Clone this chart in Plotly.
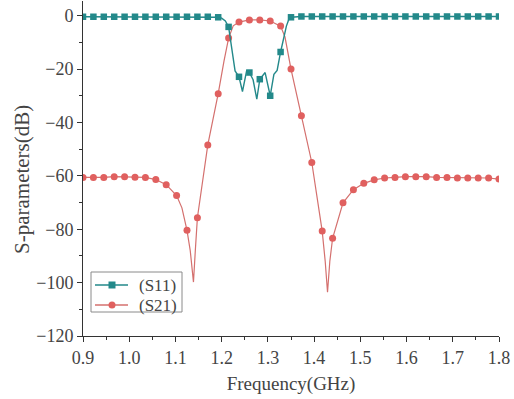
import plotly.graph_objects as go

# ---------------- data ----------------
# marker (sampled) points
freq_markers = [0.9, 0.9225, 0.945, 0.9675, 0.99, 1.0125, 1.035, 1.0575, 1.08, 1.1025,
                1.125, 1.1475, 1.17, 1.1925, 1.215, 1.2375, 1.26, 1.2825, 1.305, 1.3275,
                1.35, 1.3725, 1.395, 1.4175, 1.44, 1.4625, 1.485, 1.5075, 1.53, 1.5525,
                1.575, 1.5975, 1.62, 1.6425, 1.665, 1.6875, 1.71, 1.7325, 1.755, 1.7775, 1.8]

s11_markers = [-0.4, -0.4, -0.4, -0.4, -0.4, -0.4, -0.4, -0.4, -0.4, -0.4,
               -0.4, -0.4, -0.4, -0.6, -4.2, -22.9, -21.3, -23.8, -30.0, -13.6,
               -0.6, -0.3, -0.3, -0.3, -0.3, -0.3, -0.3, -0.3, -0.3, -0.3,
               -0.3, -0.3, -0.3, -0.3, -0.3, -0.3, -0.3, -0.3, -0.3, -0.3, -0.3]

s21_markers = [-60.6, -60.6, -60.6, -60.3, -60.3, -60.5, -60.6, -61.4, -63.3, -67.4,
               -80.4, -75.7, -48.4, -29.2, -8.4, -2.4, -1.6, -1.6, -2.0, -3.9,
               -20.0, -37.5, -55.0, -80.7, -83.4, -70.1, -65.2, -62.8, -61.5, -60.8,
               -60.6, -60.3, -60.3, -60.3, -60.6, -60.6, -60.8, -60.8, -60.8, -60.8, -61.2]

# extra points shaping the continuous curves between markers
s11_extra_freq = [1.200, 1.208, 1.222, 1.229, 1.245, 1.254, 1.268, 1.276, 1.294, 1.313, 1.320, 1.340, 1.345]
s11_extra_db = [-0.9, -2.0, -12.0, -20.7, -28.4, -20.7, -24.0, -31.3, -21.3, -22.0, -20.5, -3.9, -1.5]

s21_extra_freq = [1.114, 1.132, 1.139, 1.143, 1.205, 1.225, 1.337, 1.424, 1.429, 1.434]
s21_extra_db = [-72.0, -88.0, -99.8, -88.0, -17.0, -3.8, -8.0, -92.0, -103.6, -92.0]

series_names = ["(S11)", "(S21)"]

x_ticks = [0.9, 1.0, 1.1, 1.2, 1.3, 1.4, 1.5, 1.6, 1.7, 1.8]
x_tick_text = ["0.9", "1.0", "1.1", "1.2", "1.3", "1.4", "1.5", "1.6", "1.7", "1.8"]
y_ticks = [0, -20, -40, -60, -80, -100, -120]
y_tick_text = ["0", "\u221220", "\u221240", "\u221260", "\u221280", "\u2212100", "\u2212120"]

# ---------------- helpers ----------------
def merged(fm, vm, fe, ve):
    pts = sorted(list(zip(fm, vm)) + list(zip(fe, ve)))
    return [p[0] for p in pts], [p[1] for p in pts]

s11_x, s11_y = merged(freq_markers, s11_markers, s11_extra_freq, s11_extra_db)
s21_x, s21_y = merged(freq_markers, s21_markers, s21_extra_freq, s21_extra_db)

TEAL = "#23898a"
RED_M = "#e0605f"
RED_L = "#d4706e"
FONT = "Liberation Serif"
TXT = "#444444"

W, H = 514, 399
ML, MR, MT, MB = 83, 15, 1, 63
PW, PH = W - ML - MR, H - MT - MB


def px(xp):
    return (xp - ML) / PW


def py(yp):
    return (H - MB - yp) / PH


fig = go.Figure()

fig.add_trace(go.Scatter(x=s21_x, y=s21_y, mode="lines", name=series_names[1],
                         line=dict(color=RED_L, width=1.2), showlegend=False, hoverinfo="skip"))
fig.add_trace(go.Scatter(x=freq_markers, y=s21_markers, mode="markers", name=series_names[1],
                         marker=dict(color=RED_M, size=7, symbol="circle"), showlegend=False))
fig.add_trace(go.Scatter(x=s11_x, y=s11_y, mode="lines", name=series_names[0],
                         line=dict(color=TEAL, width=1.4), showlegend=False, hoverinfo="skip"))
fig.add_trace(go.Scatter(x=freq_markers, y=s11_markers, mode="markers", name=series_names[0],
                         marker=dict(color=TEAL, size=6.5, symbol="square"), showlegend=False))

# ---------------- legend (drawn as shapes + text) ----------------
shapes = [dict(type="rect", xref="paper", yref="paper",
               x0=px(91), x1=px(182), y0=py(312), y1=py(272),
               line=dict(color="#8a8a8a", width=1), fillcolor="white", layer="above")]
annotations = []
leg_items = [(series_names[0], TEAL, TEAL, 285, "rect"),
             (series_names[1], RED_L, RED_M, 305, "circle")]
for name, lc, mc, yc, sym in leg_items:
    shapes.append(dict(type="line", xref="paper", yref="paper",
                       x0=px(95), x1=px(128), y0=py(yc), y1=py(yc),
                       line=dict(color=lc, width=1.4), layer="above"))
    shapes.append(dict(type=sym, xref="paper", yref="paper",
                       x0=px(108.5), x1=px(115.5), y0=py(yc + 3.5), y1=py(yc - 3.5),
                       line=dict(color=mc, width=0), fillcolor=mc, layer="above"))
    annotations.append(dict(text=name, showarrow=False, xref="paper", yref="paper",
                            x=px(137), y=py(yc), xanchor="left", yanchor="middle",
                            font=dict(family=FONT, size=17, color=TXT)))

annotations.append(dict(text="S-parameters(dB)", textangle=-90, showarrow=False,
                        xref="paper", yref="paper", x=px(22), y=py(180),
                        xanchor="center", yanchor="middle",
                        font=dict(family=FONT, size=21, color=TXT)))

fig.update_layout(
    width=W, height=H,
    margin=dict(l=ML, r=MR, t=MT, b=MB, autoexpand=False),
    paper_bgcolor="white", plot_bgcolor="white",
    font=dict(family=FONT, color=TXT, size=17),
    showlegend=False,
    shapes=shapes,
    annotations=annotations,
)

fig.update_xaxes(
    range=[0.9, 1.8], tickvals=x_ticks, ticktext=x_tick_text, automargin=False,
    showgrid=False, zeroline=False, showline=True, linecolor="#333", linewidth=1,
    ticks="outside", ticklen=5, tickcolor="#333",
    minor=dict(dtick=0.05, tick0=0.9, ticks="outside", ticklen=3, tickcolor="#333"),
    tickfont=dict(family=FONT, size=18, color=TXT),
    title=dict(text="Frequency(GHz)", font=dict(family=FONT, size=19, color=TXT), standoff=10),
)
fig.update_yaxes(
    range=[-120, 5.5], tickvals=y_ticks, ticktext=y_tick_text, automargin=False,
    showgrid=False, zeroline=False, showline=True, linecolor="#333", linewidth=1,
    ticks="outside", ticklen=5, tickcolor="#333",
    minor=dict(dtick=10, tick0=0, ticks="outside", ticklen=3, tickcolor="#333"),
    tickfont=dict(family=FONT, size=18, color=TXT),
)

fig.write_html("out.html", config={"displayModeBar": False},
               post_script="document.body.style.margin='0';")
